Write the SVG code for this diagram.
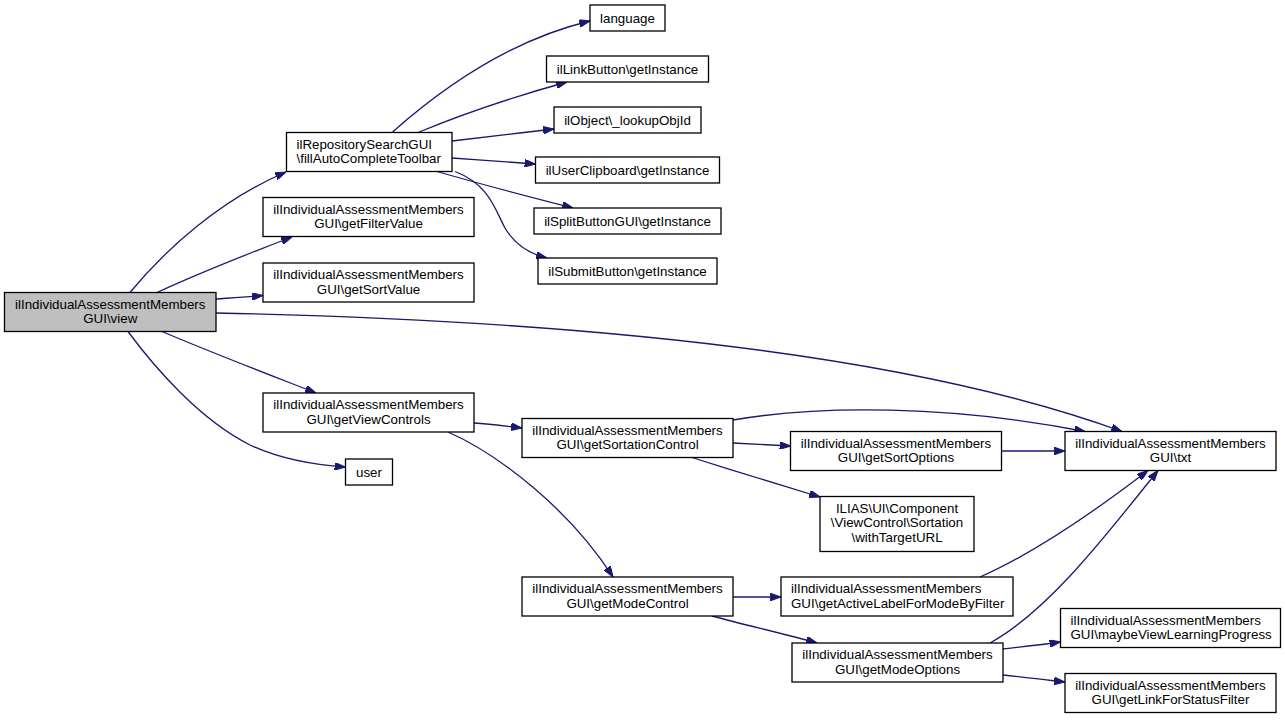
<svg xmlns="http://www.w3.org/2000/svg" width="1285" height="721" viewBox="0 0 1285 721">
<style>
.n rect{fill:#ffffff;stroke:#000000;stroke-width:1.3}
.n text{font-family:"Liberation Sans",Arial,sans-serif;font-size:13.33px;fill:#000000;text-anchor:middle}
.n text.l{text-anchor:start}
.e path{fill:none;stroke:#191970;stroke-width:1.3;marker-end:url(#ah)}
</style>
<defs>
<marker id="ah" viewBox="0 0 10 7" refX="10" refY="3.5" markerWidth="11" markerHeight="7.5" markerUnits="userSpaceOnUse" orient="auto">
<path d="M0,0 L10,3.5 L0,7 z" fill="#191970" stroke="#191970" stroke-width="1"/>
</marker>
</defs>
<rect width="1285" height="721" fill="#ffffff"/>
<g class="e" id="connectors">
<path d="M130,292.5 C165,250 220,200 286,172"/>
<path d="M157,292.5 C195,275 250,253 292,237"/>
<path d="M216,299 C230,298 246,297 263,295.5"/>
<path d="M216,313 C650,322 940,365 1122,431.5"/>
<path d="M162,331.5 C210,352 270,375 316,393"/>
<path d="M128,331.5 C155,368 200,420 250,445 C282,460 315,465 345.5,467"/>
<path d="M392,132.5 C440,90 510,40 590,21"/>
<path d="M418,132.5 C460,115 520,95 567,82"/>
<path d="M452,141 C485,137 520,133 554,129"/>
<path d="M452,158 C480,160 510,162 535.5,164"/>
<path d="M437,171.5 C480,184 530,197 573,208"/>
<path d="M455,171.5 C490,185 495,210 505,228 C515,245 530,254 547,258"/>
<path d="M474,423 C490,424 505,426 522,428"/>
<path d="M448,432 C500,455 570,510 613,577"/>
<path d="M733,420 C820,405 950,405 1085,431.5"/>
<path d="M733,443 C750,444 770,445 790.5,446"/>
<path d="M692,457.5 C735,471 780,485 820,497"/>
<path d="M1001.5,451 L1065,451"/>
<path d="M733,597 L781,597"/>
<path d="M712,616 C745,625 785,634 817,643"/>
<path d="M980,577 C1030,555 1090,515 1148,470.5"/>
<path d="M990,643 C1050,610 1110,530 1158,470.5"/>
<path d="M1003,649 C1020,647 1040,645 1060.5,642"/>
<path d="M1003,675 C1025,677 1045,680 1065,682"/>
</g>
<g class="n" id="view">
<rect x="4.5" y="292.5" width="211.5" height="39" style="fill:#bfbfbf"/>
<text x="110.25" y="308.5">ilIndividualAssessmentMembers</text>
<text x="110.25" y="323">GUI\view</text>
</g>
<g class="n" id="fillAutoCompleteToolbar">
<rect x="286.5" y="132.5" width="165.5" height="39"/>
<text class="l" x="296.5" y="148.5">ilRepositorySearchGUI</text>
<text class="l" x="296.5" y="163">\fillAutoCompleteToolbar</text>
</g>
<g class="n" id="getFilterValue">
<rect x="263" y="197.5" width="211" height="39"/>
<text x="368.5" y="213.5">ilIndividualAssessmentMembers</text>
<text x="368.5" y="228">GUI\getFilterValue</text>
</g>
<g class="n" id="getSortValue">
<rect x="263" y="263" width="211" height="39"/>
<text x="368.5" y="279">ilIndividualAssessmentMembers</text>
<text x="368.5" y="293.5">GUI\getSortValue</text>
</g>
<g class="n" id="getViewControls">
<rect x="263" y="393" width="211" height="39"/>
<text x="368.5" y="409">ilIndividualAssessmentMembers</text>
<text x="368.5" y="423.5">GUI\getViewControls</text>
</g>
<g class="n" id="user">
<rect x="345.5" y="459" width="47" height="26"/>
<text x="369" y="476.5">user</text>
</g>
<g class="n" id="language">
<rect x="590" y="5" width="75" height="26"/>
<text x="627.5" y="22.5">language</text>
</g>
<g class="n" id="ilLinkButton">
<rect x="546.5" y="56" width="162" height="26"/>
<text x="627.5" y="73.5">ilLinkButton\getInstance</text>
</g>
<g class="n" id="ilObject">
<rect x="554" y="107" width="147" height="26"/>
<text x="627.5" y="124.5">ilObject\_lookupObjId</text>
</g>
<g class="n" id="ilUserClipboard">
<rect x="535.5" y="157" width="184" height="26"/>
<text x="627.5" y="174.5">ilUserClipboard\getInstance</text>
</g>
<g class="n" id="ilSplitButtonGUI">
<rect x="534" y="208" width="187" height="26"/>
<text x="627.5" y="225.5">ilSplitButtonGUI\getInstance</text>
</g>
<g class="n" id="ilSubmitButton">
<rect x="538" y="258" width="179" height="26"/>
<text x="627.5" y="275.5">ilSubmitButton\getInstance</text>
</g>
<g class="n" id="getSortationControl">
<rect x="522" y="418.5" width="211" height="39"/>
<text x="627.5" y="434.5">ilIndividualAssessmentMembers</text>
<text x="627.5" y="449">GUI\getSortationControl</text>
</g>
<g class="n" id="getModeControl">
<rect x="522" y="577" width="211" height="39"/>
<text x="627.5" y="593">ilIndividualAssessmentMembers</text>
<text x="627.5" y="607.5">GUI\getModeControl</text>
</g>
<g class="n" id="getSortOptions">
<rect x="790.5" y="431.5" width="211" height="39"/>
<text x="896" y="447.5">ilIndividualAssessmentMembers</text>
<text x="896" y="462">GUI\getSortOptions</text>
</g>
<g class="n" id="withTargetURL">
<rect x="820" y="496.5" width="154" height="55"/>
<text x="897" y="512.5">ILIAS\UI\Component</text>
<text x="897" y="527">\ViewControl\Sortation</text>
<text x="897" y="541.5">\withTargetURL</text>
</g>
<g class="n" id="getActiveLabelForModeByFilter">
<rect x="781" y="577" width="232" height="39"/>
<text class="l" x="791" y="593">ilIndividualAssessmentMembers</text>
<text class="l" x="791" y="607.5">GUI\getActiveLabelForModeByFilter</text>
</g>
<g class="n" id="getModeOptions">
<rect x="792" y="643" width="211" height="39"/>
<text x="897.5" y="659">ilIndividualAssessmentMembers</text>
<text x="897.5" y="673.5">GUI\getModeOptions</text>
</g>
<g class="n" id="txt">
<rect x="1065" y="431.5" width="211" height="39"/>
<text x="1170.5" y="447.5">ilIndividualAssessmentMembers</text>
<text x="1170.5" y="462">GUI\txt</text>
</g>
<g class="n" id="maybeViewLearningProgress">
<rect x="1060.5" y="608.5" width="220" height="39"/>
<text class="l" x="1070.5" y="624.5">ilIndividualAssessmentMembers</text>
<text class="l" x="1070.5" y="639">GUI\maybeViewLearningProgress</text>
</g>
<g class="n" id="getLinkForStatusFilter">
<rect x="1065" y="673.5" width="211" height="39"/>
<text x="1170.5" y="689.5">ilIndividualAssessmentMembers</text>
<text x="1170.5" y="704">GUI\getLinkForStatusFilter</text>
</g>
</svg>
